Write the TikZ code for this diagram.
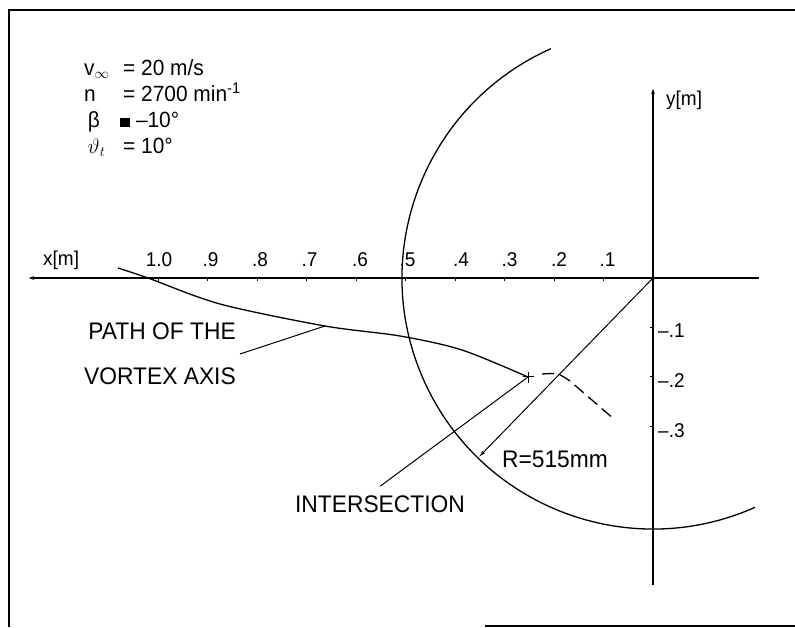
\documentclass[tikz,border=0pt]{standalone}
\usepackage{fontspec}
\setmainfont{Liberation Sans}[FakeStretch=0.95]
\usetikzlibrary{arrows.meta,positioning,calc}

\begin{document}
\begin{tikzpicture}[x=1pt,y=1pt,
    axis/.style={line width=1.6pt},
    curve/.style={line width=1.3pt},
    lead/.style={line width=1pt},
    lbl/.style={font=\fontsize{24}{45}\selectfont, inner sep=0pt, align=right},
    num/.style={font=\fontsize{20}{22}\selectfont, inner sep=0pt},
    parm/.style={font=\fontsize{22}{26}\selectfont, inner sep=0pt, align=left}
]
\useasboundingbox (0,0) rectangle (795,627);
% frame
\draw[line width=1.4pt] (9,0) -- (9,617) -- (795,617);
\draw[line width=1.4pt] (485,1) -- (795,1);

% axes
\coordinate (O) at (653,349);
\coordinate (xbeg) at (759,349);
\coordinate (xtip) at (25,349);
\coordinate (ybeg) at (653,42);
\coordinate (ytip) at (653,542);
\draw[axis,-{Latex[length=9pt,width=3.5pt]}] (xbeg) -- (xtip);
\draw[axis,-{Latex[length=9pt,width=3.5pt]}] (ybeg) -- (ytip);
\node[num, anchor=west] (xlab) at (43,367) {x[m]};
\node[num, anchor=west] (ylab) at (666,527) {y[m]};

% ticks and scale
\foreach \k/\t/\dx in {1/.1/4,2/.2/5,3/.3/5,4/.4/6,5/.5/2,6/.6/4,7/.7/3,8/.8/3,9/.9/3,10/1.0/1}{
  \draw[lead] ($(O)+(-49.5*\k,0)$) -- ++(0,-3);
  \node[num, anchor=base] (xt\k) at ($(O)+(-49.5*\k+\dx,11)$) {\t};
}
\foreach \k/\yy in {1/296,2/246,3/196}{
  \draw[lead] ($(O)+(0,-49.5*\k)$) -- ++(-3,0);
  \node[num, anchor=west] (yt\k) at (658,\yy) {--.\k};
}

% circle R=515mm
\draw[curve] (O) ++(114:251) arc[start angle=114, end angle=294, radius=251];
\draw[lead,-{Latex[length=7pt,width=3.5pt]}] (O) -- ++(225.8:250);
\node[lbl] (rlab) at (555,168) {R=515mm};

% path of the vortex axis
\coordinate (pv) at (325,301);
\coordinate (X) at (528,250);
\draw[curve] plot[smooth, tension=0.5] coordinates
  {(118,359) (148,349) (220,323) (pv) (400,291) (462,277) (X)};
\draw[lead] (X) ++(-5,0) -- ++(11,0) (X) ++(0,-6) -- ++(0,11);
\draw[curve, dash pattern=on 12pt off 6pt] (542,253) .. controls (558,254) .. (570,246) -- (615,207);

% labels
\node[lbl, anchor=east, inner sep=4pt] (pathlbl) at (240,273) {PATH OF THE\\VORTEX AXIS};
\draw[lead] (pathlbl.east) -- (pv);
\node[lbl] (intsec) at (380,123) {INTERSECTION};
\draw[lead] (X) -- ([yshift=9pt]intsec.north);

% parameters
\node[parm, anchor=north west] (parms) at (84,568) {%
  \makebox[39pt][l]{v\textsubscript{$\infty$}}= 20 m/s\\
  \makebox[39pt][l]{n}= 2700 min\textsuperscript{-1}\\
  \makebox[36pt][l]{\,β}\rule{10pt}{9pt} --10°\\
  \makebox[39pt][l]{\,$\vartheta_t$}= 10°};
\end{tikzpicture}
\end{document}
